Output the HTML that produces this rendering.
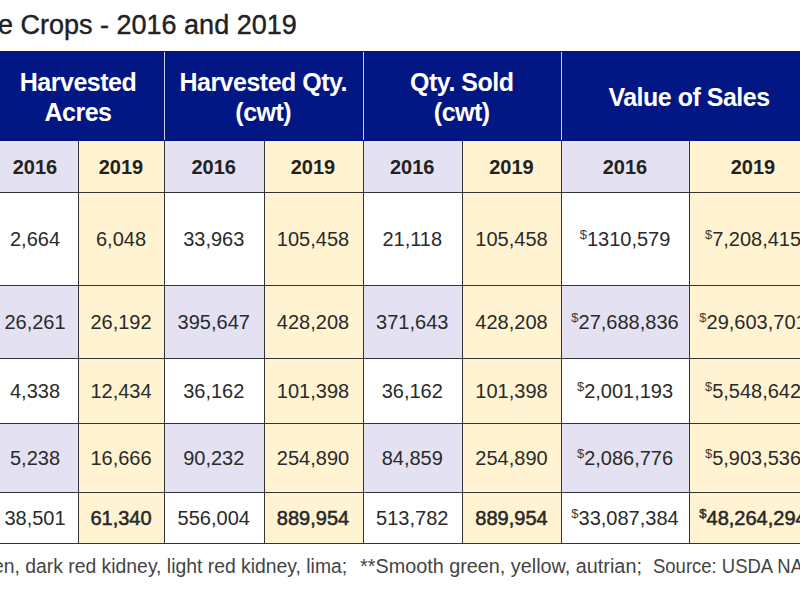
<!DOCTYPE html>
<html><head><meta charset="utf-8"><style>
html,body{margin:0;padding:0;background:#fff;}
body{width:800px;height:600px;overflow:hidden;position:relative;font-family:"Liberation Sans",sans-serif;color:#222;}
.c{position:absolute;display:flex;align-items:center;justify-content:center;text-align:center;box-sizing:border-box;white-space:nowrap;}
.t{position:absolute;white-space:nowrap;}
.h{color:#fff;font-weight:bold;font-size:25px;line-height:30px;letter-spacing:-0.5px;padding-top:1px;}
.s{font-weight:bold;font-size:20px;padding-top:2px;}
.d{font-size:20px;padding-top:2px;color:#2a2a2a;}
.b{font-weight:normal;-webkit-text-stroke:0.5px #222;}
.vl{position:absolute;width:1px;background:#333;}
.hl{position:absolute;height:1px;background:#333;left:0;width:800px;}
.fn{top:554px;font-size:20px;line-height:24px;color:#444;transform-origin:0 0;}
sup{color:#3a3a3a;font-size:13px;vertical-align:top;position:relative;top:-5px;margin-right:0px;}
</style></head><body>

<div class="t" style="left:-2px;top:8px;font-size:27px;line-height:34px;color:#222;-webkit-text-stroke:0.4px #222">e Crops - 2016 and 2019</div>
<div style="position:absolute;left:0;top:51px;width:800px;height:90px;background:#021684"></div>
<div style="position:absolute;left:0;top:139px;width:800px;height:1px;background:#031270"></div>
<div class="c h" style="left:-8px;top:51px;width:172px;height:90px">Harvested<br>Acres</div>
<div class="c h" style="left:164px;top:51px;width:198.5px;height:90px">Harvested Qty.<br>(cwt)</div>
<div class="c h" style="left:362.5px;top:51px;width:198.5px;height:90px">Qty. Sold<br>(cwt)</div>
<div class="c h" style="left:561px;top:51px;width:256px;height:90px">Value of Sales</div>
<div style="position:absolute;left:164px;top:52px;width:1px;height:88px;background:#c9cde6"></div>
<div style="position:absolute;left:362.5px;top:52px;width:1px;height:88px;background:#c9cde6"></div>
<div style="position:absolute;left:561px;top:52px;width:1px;height:88px;background:#c9cde6"></div>
<div class="c s" style="left:-8px;top:141px;width:86px;height:51px;background:#e4e2f2">2016</div>
<div class="c s" style="left:78px;top:141px;width:86px;height:51px;background:#fff3d1">2019</div>
<div class="c s" style="left:164px;top:141px;width:99.5px;height:51px;background:#e4e2f2">2016</div>
<div class="c s" style="left:263.5px;top:141px;width:99.0px;height:51px;background:#fff3d1">2019</div>
<div class="c s" style="left:362.5px;top:141px;width:99.5px;height:51px;background:#e4e2f2">2016</div>
<div class="c s" style="left:462px;top:141px;width:99px;height:51px;background:#fff3d1">2019</div>
<div class="c s" style="left:561px;top:141px;width:128px;height:51px;background:#e4e2f2">2016</div>
<div class="c s" style="left:689px;top:141px;width:128px;height:51px;background:#fff3d1">2019</div>
<div class="c d" style="left:-8px;top:192px;width:86px;height:93px;background:#fff">2,664</div>
<div class="c d" style="left:78px;top:192px;width:86px;height:93px;background:#fff3d1">6,048</div>
<div class="c d" style="left:164px;top:192px;width:99.5px;height:93px;background:#fff">33,963</div>
<div class="c d" style="left:263.5px;top:192px;width:99.0px;height:93px;background:#fff3d1">105,458</div>
<div class="c d" style="left:362.5px;top:192px;width:99.5px;height:93px;background:#fff">21,118</div>
<div class="c d" style="left:462px;top:192px;width:99px;height:93px;background:#fff3d1">105,458</div>
<div class="c d" style="left:561px;top:192px;width:128px;height:93px;background:#fff"><sup>$</sup>1310,579</div>
<div class="c d" style="left:689px;top:192px;width:128px;height:93px;background:#fff3d1"><sup>$</sup>7,208,415</div>
<div class="c d" style="left:-8px;top:285px;width:86px;height:73px;background:#e4e2f2">26,261</div>
<div class="c d" style="left:78px;top:285px;width:86px;height:73px;background:#fff3d1">26,192</div>
<div class="c d" style="left:164px;top:285px;width:99.5px;height:73px;background:#e4e2f2">395,647</div>
<div class="c d" style="left:263.5px;top:285px;width:99.0px;height:73px;background:#fff3d1">428,208</div>
<div class="c d" style="left:362.5px;top:285px;width:99.5px;height:73px;background:#e4e2f2">371,643</div>
<div class="c d" style="left:462px;top:285px;width:99px;height:73px;background:#fff3d1">428,208</div>
<div class="c d" style="left:561px;top:285px;width:128px;height:73px;background:#e4e2f2"><sup>$</sup>27,688,836</div>
<div class="c d" style="left:689px;top:285px;width:128px;height:73px;background:#fff3d1"><sup>$</sup>29,603,701</div>
<div class="c d" style="left:-8px;top:358px;width:86px;height:65px;background:#fff">4,338</div>
<div class="c d" style="left:78px;top:358px;width:86px;height:65px;background:#fff3d1">12,434</div>
<div class="c d" style="left:164px;top:358px;width:99.5px;height:65px;background:#fff">36,162</div>
<div class="c d" style="left:263.5px;top:358px;width:99.0px;height:65px;background:#fff3d1">101,398</div>
<div class="c d" style="left:362.5px;top:358px;width:99.5px;height:65px;background:#fff">36,162</div>
<div class="c d" style="left:462px;top:358px;width:99px;height:65px;background:#fff3d1">101,398</div>
<div class="c d" style="left:561px;top:358px;width:128px;height:65px;background:#fff"><sup>$</sup>2,001,193</div>
<div class="c d" style="left:689px;top:358px;width:128px;height:65px;background:#fff3d1"><sup>$</sup>5,548,642</div>
<div class="c d" style="left:-8px;top:423px;width:86px;height:69px;background:#e4e2f2">5,238</div>
<div class="c d" style="left:78px;top:423px;width:86px;height:69px;background:#fff3d1">16,666</div>
<div class="c d" style="left:164px;top:423px;width:99.5px;height:69px;background:#e4e2f2">90,232</div>
<div class="c d" style="left:263.5px;top:423px;width:99.0px;height:69px;background:#fff3d1">254,890</div>
<div class="c d" style="left:362.5px;top:423px;width:99.5px;height:69px;background:#e4e2f2">84,859</div>
<div class="c d" style="left:462px;top:423px;width:99px;height:69px;background:#fff3d1">254,890</div>
<div class="c d" style="left:561px;top:423px;width:128px;height:69px;background:#e4e2f2"><sup>$</sup>2,086,776</div>
<div class="c d" style="left:689px;top:423px;width:128px;height:69px;background:#fff3d1"><sup>$</sup>5,903,536</div>
<div class="c d" style="left:-8px;top:492px;width:86px;height:51px;background:#fff">38,501</div>
<div class="c d b" style="left:78px;top:492px;width:86px;height:51px;background:#fff3d1">61,340</div>
<div class="c d" style="left:164px;top:492px;width:99.5px;height:51px;background:#fff">556,004</div>
<div class="c d b" style="left:263.5px;top:492px;width:99.0px;height:51px;background:#fff3d1">889,954</div>
<div class="c d" style="left:362.5px;top:492px;width:99.5px;height:51px;background:#fff">513,782</div>
<div class="c d b" style="left:462px;top:492px;width:99px;height:51px;background:#fff3d1">889,954</div>
<div class="c d" style="left:561px;top:492px;width:128px;height:51px;background:#fff"><sup>$</sup>33,087,384</div>
<div class="c d b" style="left:689px;top:492px;width:128px;height:51px;background:#fff3d1"><sup>$</sup>48,264,294</div>
<div class="vl" style="left:78px;top:141px;height:403px"></div>
<div class="vl" style="left:164px;top:141px;height:403px"></div>
<div class="vl" style="left:263.5px;top:141px;height:403px"></div>
<div class="vl" style="left:362.5px;top:141px;height:403px"></div>
<div class="vl" style="left:462px;top:141px;height:403px"></div>
<div class="vl" style="left:561px;top:141px;height:403px"></div>
<div class="vl" style="left:689px;top:141px;height:403px"></div>
<div class="hl" style="top:192px"></div>
<div class="hl" style="top:285px"></div>
<div class="hl" style="top:358px"></div>
<div class="hl" style="top:423px"></div>
<div class="hl" style="top:492px"></div>
<div class="hl" style="top:543px"></div>
<div class="t fn" style="left:-6.56px;transform:scaleX(0.9674)">en, dark red kidney, light red kidney, lima;</div>
<div class="t fn" style="left:359.60px;transform:scaleX(0.9905)">**Smooth green, yellow, autrian;</div>
<div class="t fn" style="left:653.20px;transform:scaleX(0.9241)">Source: USDA NASS</div>
</body></html>
